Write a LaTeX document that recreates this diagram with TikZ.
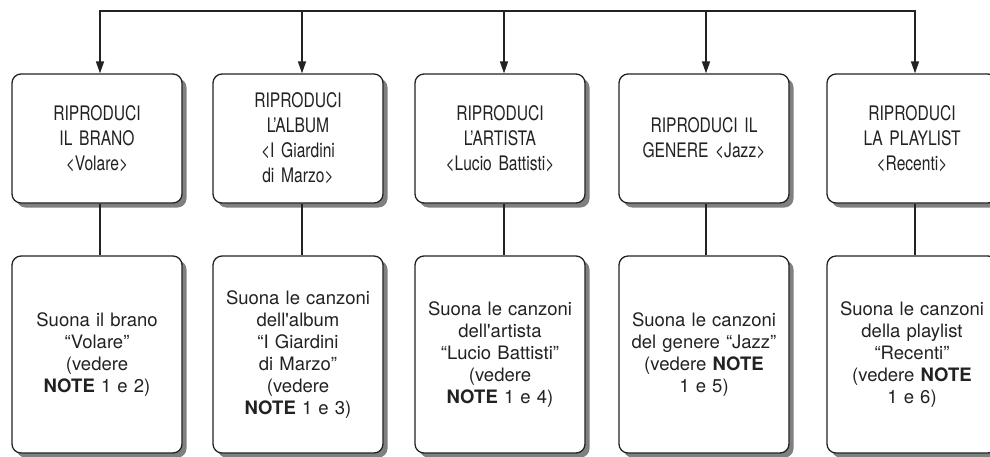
\documentclass[tikz,border=0pt]{standalone}
\usepackage{fontspec}
\usetikzlibrary{arrows.meta,shadows}
\newfontfamily\topfont[FakeStretch=0.78]{TeX Gyre Heros}
\newfontfamily\botfont{TeX Gyre Heros}
\definecolor{ink}{HTML}{222222}
\tikzset{
  boxbase/.style={draw=ink, line width=1.3pt, fill=white, rounded corners=9pt,
    align=center, inner sep=2pt, text=ink,
    drop shadow={shadow xshift=4.5pt, shadow yshift=-4.5pt, fill=black!50, opacity=1}},
  topbox/.style={boxbase, minimum width=170pt, minimum height=129pt, text width=164pt,
    font=\topfont\fontsize{20}{25}\selectfont},
  botbox/.style={boxbase, minimum width=170pt, minimum height=197pt, text width=166pt,
    font=\botfont\fontsize{18.5}{22}\selectfont},
  conn/.style={draw=ink, line width=1.5pt},
  arr/.style={conn, -{Triangle[length=12pt,width=8pt]}}
}
\begin{document}
\begin{tikzpicture}[x=1pt,y=-1pt]
\clip (0,0) rectangle (990,456);
\fill[white] (0,0) rectangle (990,456);
% top boxes
\node[topbox] (a1) at (97,138.5) {RIPRODUCI\\IL BRANO\\<Volare>};
\node[topbox] (a2) at (298,138.5) {RIPRODUCI\\L’ALBUM\\<I Giardini\\di Marzo>};
\node[topbox] (a3) at (500,138.5) {RIPRODUCI\\L’ARTISTA\\<Lucio Battisti>};
\node[topbox] (a4) at (704,138.5) {RIPRODUCI IL\\GENERE <Jazz>};
\node[topbox] (a5) at (912,138.5) {RIPRODUCI\\LA PLAYLIST\\<Recenti>};
% bottom boxes
\node[botbox] (b1) at (97,354.5) {Suona il brano\\“Volare”\\(vedere\\\textbf{NOTE} 1 e 2)};
\node[botbox] (b2) at (298,354.5) {Suona le canzoni\\dell'album\\“I Giardini\\di Marzo”\\(vedere\\\textbf{NOTE} 1 e 3)};
\node[botbox] (b3) at (500,354.5) {Suona le canzoni\\dell'artista\\“Lucio Battisti”\\(vedere\\\textbf{NOTE} 1 e 4)};
\node[botbox] (b4) at (704,354.5) {Suona le canzoni\\del genere “Jazz”\\(vedere \textbf{NOTE}\\1 e 5)};
\node[botbox] (b5) at (912,354.5) {Suona le canzoni\\della playlist\\“Recenti”\\(vedere \textbf{NOTE}\\1 e 6)};
% top bus
\coordinate (t1) at (100,11);
\coordinate (t2) at (302,11);
\coordinate (t3) at (504,11);
\coordinate (t4) at (706,11);
\coordinate (t5) at (915,11);
\draw[conn, line width=1.8pt, line cap=rect] (t1) -- (t5);
\foreach \i in {1,...,5}{
  \draw[arr] (t\i) -- (t\i |- a\i.north);
  \draw[conn] (t\i |- a\i.south) -- (t\i |- b\i.north);
}
\end{tikzpicture}
\end{document}
